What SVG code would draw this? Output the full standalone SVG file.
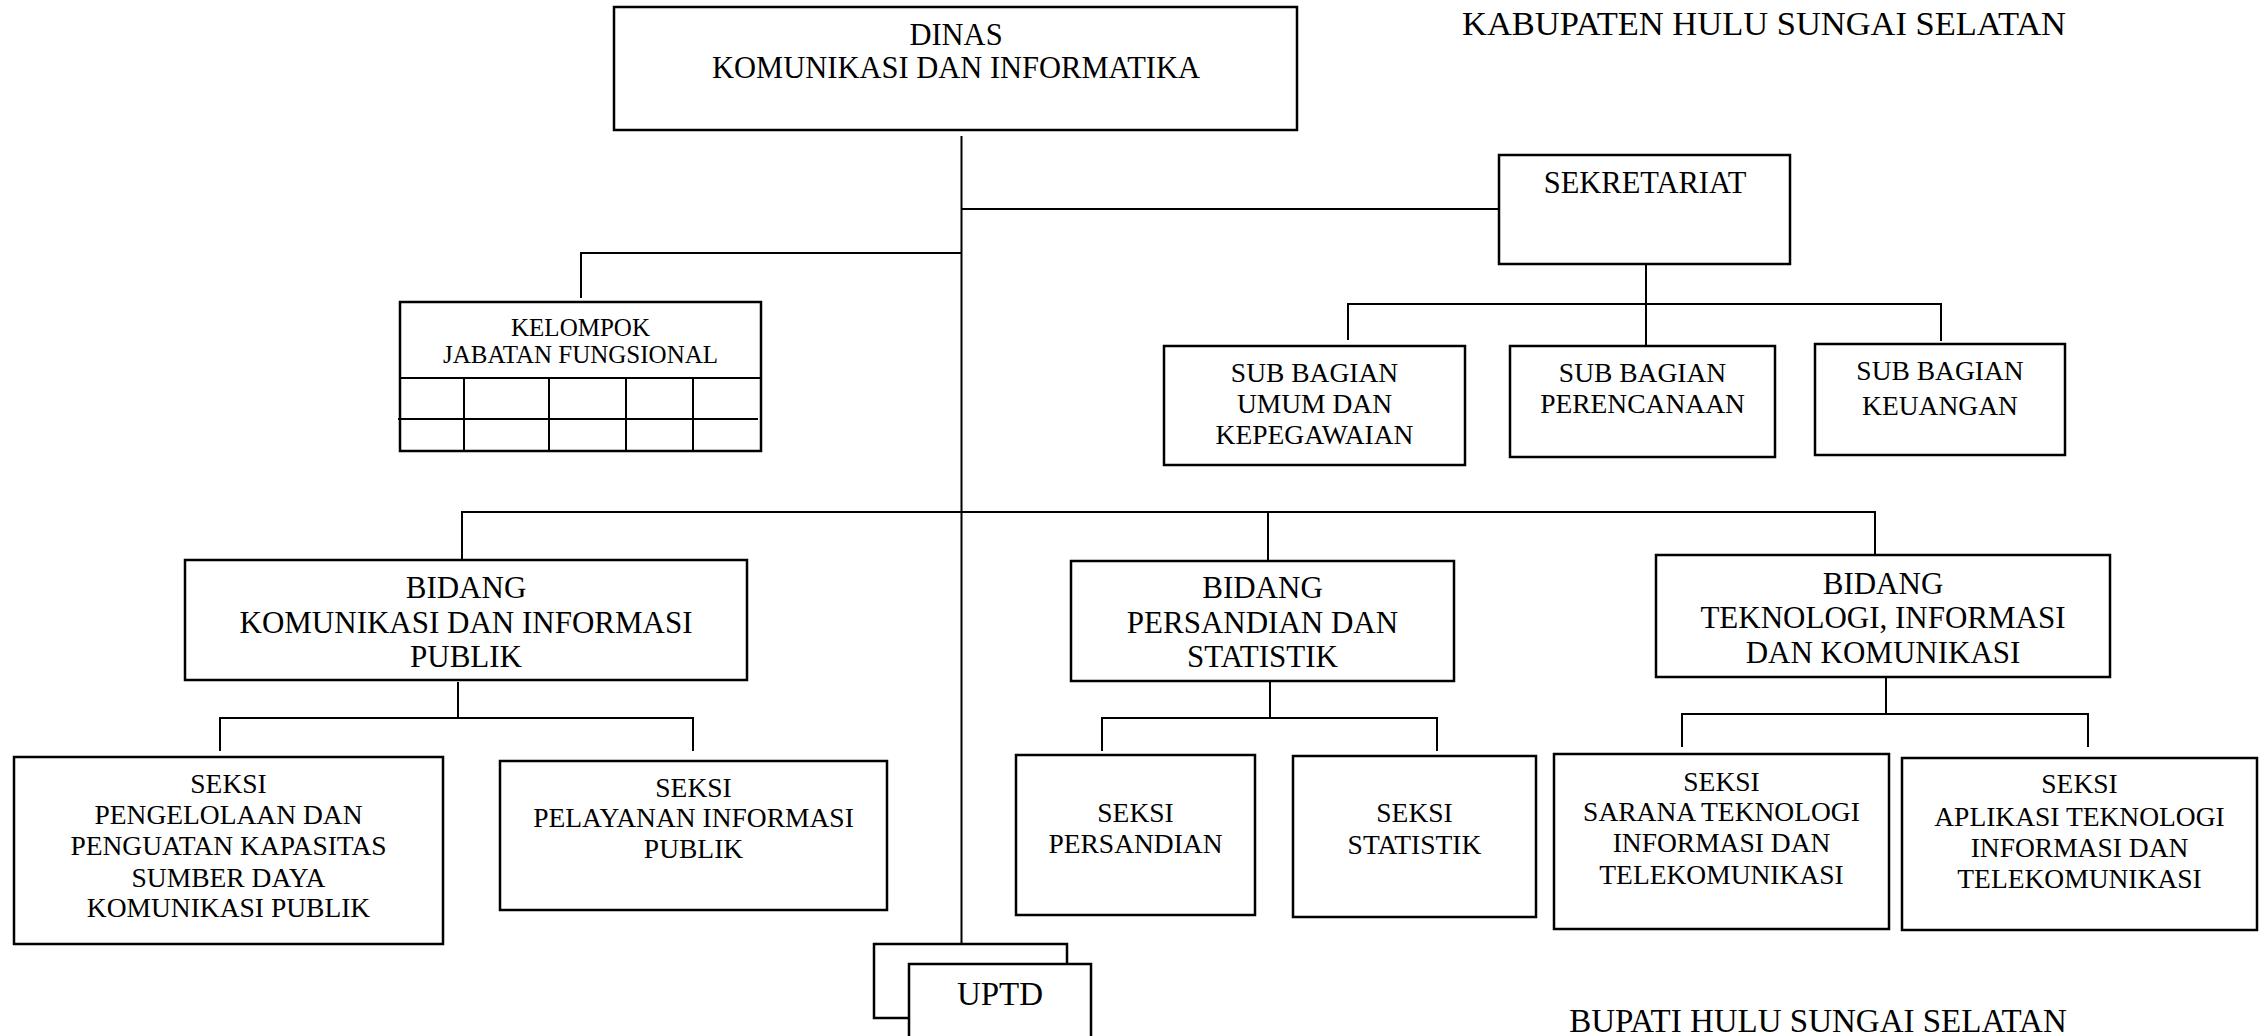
<svg xmlns="http://www.w3.org/2000/svg" width="2259" height="1036" viewBox="0 0 2259 1036">
<style>
text{font-family:"Liberation Serif","Times New Roman",serif;fill:#000;text-anchor:middle}
.box{fill:#fff;stroke:#000;stroke-width:2.5}
.ln{fill:none;stroke:#000;stroke-width:2}
.h{font-size:33px}
.t1{font-size:30.5px}
.b{font-size:31px}
.sb{font-size:27.5px}
.s{font-size:27.5px}
.k{font-size:25px}
</style>
<rect width="2259" height="1036" fill="#fff"/>
<text class="h" x="1764" y="35" textLength="604" lengthAdjust="spacingAndGlyphs">KABUPATEN HULU SUNGAI SELATAN</text>
<text class="h" x="1818" y="1032">BUPATI HULU SUNGAI SELATAN</text>
<g id="connectors">
<path class="ln" d="M961.5 136V944"/>
<path class="ln" d="M961.5 209H1499"/>
<path class="ln" d="M961.5 253H581V298"/>
<path class="ln" d="M1646 264V346M1348 340V304H1941V341"/>
<path class="ln" d="M462 560V512H1875V555M1268 512V561"/>
<path class="ln" d="M458 682V718M220 751V718H693V751"/>
<path class="ln" d="M1270 682V718M1102 751V718H1437V751"/>
<path class="ln" d="M1886 678V714M1682 747V714H2088V747"/>
</g>
<g id="dinas">
<rect class="box" x="614" y="7" width="683" height="123"/>
<text class="t1" x="956" y="45">DINAS</text>
<text class="t1" x="956" y="78">KOMUNIKASI DAN INFORMATIKA</text>
</g>
<g id="sekretariat">
<rect class="box" x="1499" y="155" width="291" height="109"/>
<text class="t1" x="1645" y="193">SEKRETARIAT</text>
</g>
<g id="sub-umum">
<rect class="box" x="1164" y="346" width="301" height="119"/>
<text class="sb" x="1314.5" y="382">SUB BAGIAN</text>
<text class="sb" x="1314.5" y="413">UMUM DAN</text>
<text class="sb" x="1314.5" y="444">KEPEGAWAIAN</text>
</g>
<g id="sub-perencanaan">
<rect class="box" x="1510" y="346" width="265" height="111"/>
<text class="sb" x="1642.5" y="382">SUB BAGIAN</text>
<text class="sb" x="1642.5" y="413">PERENCANAAN</text>
</g>
<g id="sub-keuangan">
<rect class="box" x="1815" y="344" width="250" height="111"/>
<text class="sb" x="1940" y="380">SUB BAGIAN</text>
<text class="sb" x="1940" y="415">KEUANGAN</text>
</g>
<g id="kelompok">
<rect class="box" x="400" y="302" width="361" height="149"/>
<path class="ln" d="M400 378H761M398 419H758M464 378V451M549 378V451M626 378V451M693 378V451"/>
<text class="k" x="580.5" y="336">KELOMPOK</text>
<text class="k" x="580.5" y="363">JABATAN FUNGSIONAL</text>
</g>
<g id="bidang-kip">
<rect class="box" x="185" y="560" width="562" height="120"/>
<text class="b" x="466" y="598">BIDANG</text>
<text class="b" x="466" y="633">KOMUNIKASI DAN INFORMASI</text>
<text class="b" x="466" y="667">PUBLIK</text>
</g>
<g id="bidang-ps">
<rect class="box" x="1071" y="561" width="383" height="120"/>
<text class="b" x="1262.5" y="598">BIDANG</text>
<text class="b" x="1262.5" y="633">PERSANDIAN DAN</text>
<text class="b" x="1262.5" y="667">STATISTIK</text>
</g>
<g id="bidang-tik">
<rect class="box" x="1656" y="555" width="454" height="122"/>
<text class="b" x="1883" y="594">BIDANG</text>
<text class="b" x="1883" y="628">TEKNOLOGI, INFORMASI</text>
<text class="b" x="1883" y="663">DAN KOMUNIKASI</text>
</g>
<g id="seksi-ppks">
<rect class="box" x="14" y="757" width="429" height="187"/>
<text class="s" x="228.5" y="793">SEKSI</text>
<text class="s" x="228.5" y="824">PENGELOLAAN DAN</text>
<text class="s" x="228.5" y="855">PENGUATAN KAPASITAS</text>
<text class="s" x="228.5" y="887">SUMBER DAYA</text>
<text class="s" x="228.5" y="917">KOMUNIKASI PUBLIK</text>
</g>
<g id="seksi-pip">
<rect class="box" x="500" y="761" width="387" height="149"/>
<text class="s" x="693.5" y="797">SEKSI</text>
<text class="s" x="693.5" y="827">PELAYANAN INFORMASI</text>
<text class="s" x="693.5" y="858">PUBLIK</text>
</g>
<g id="seksi-persandian">
<rect class="box" x="1016" y="755" width="239" height="160"/>
<text class="s" x="1135.5" y="822">SEKSI</text>
<text class="s" x="1135.5" y="853">PERSANDIAN</text>
</g>
<g id="seksi-statistik">
<rect class="box" x="1293" y="756" width="243" height="161"/>
<text class="s" x="1414.5" y="822">SEKSI</text>
<text class="s" x="1414.5" y="854">STATISTIK</text>
</g>
<g id="seksi-sarana">
<rect class="box" x="1554" y="754" width="335" height="175"/>
<text class="s" x="1721.5" y="791">SEKSI</text>
<text class="s" x="1721.5" y="821">SARANA TEKNOLOGI</text>
<text class="s" x="1721.5" y="852">INFORMASI DAN</text>
<text class="s" x="1721.5" y="884">TELEKOMUNIKASI</text>
</g>
<g id="seksi-aplikasi">
<rect class="box" x="1902" y="758" width="355" height="172"/>
<text class="s" x="2079.5" y="793">SEKSI</text>
<text class="s" x="2079.5" y="826">APLIKASI TEKNOLOGI</text>
<text class="s" x="2079.5" y="857">INFORMASI DAN</text>
<text class="s" x="2079.5" y="888">TELEKOMUNIKASI</text>
</g>
<g id="uptd">
<rect class="box" x="874" y="944" width="193" height="74"/>
<rect class="box" x="909" y="964" width="182" height="90"/>
<text class="h" x="1000" y="1005">UPTD</text>
</g>
</svg>
